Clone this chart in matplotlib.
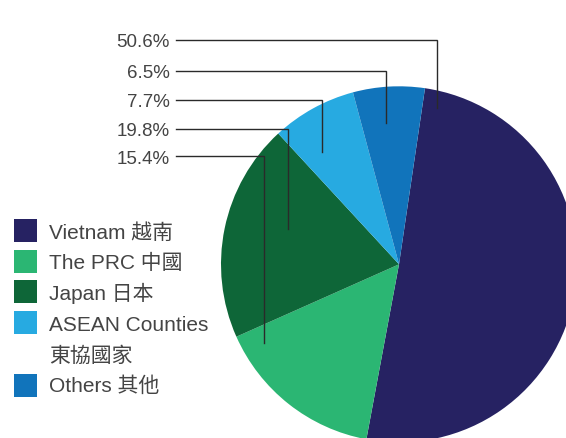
import matplotlib
matplotlib.use("Agg")
import matplotlib.pyplot as plt
from matplotlib.patches import Rectangle

plt.rcParams['font.family'] = ['Liberation Sans', 'Noto Sans CJK TC', 'DejaVu Sans']

# ---- data ----
categories = ['Vietnam 越南', 'The PRC 中國', 'Japan 日本', 'ASEAN Counties\n東協國家', 'Others 其他']
shares = [50.6, 15.4, 19.8, 7.7, 6.5]
colors = ['#262262', '#2BB673', '#0E6638', '#27AAE1', '#1174BB']
# order of the percentage labels from top to bottom (index into the lists above)
label_order = [0, 4, 3, 2, 1]

# ---- layout (pixel units) ----
W, H = 566, 438
fig = plt.figure(figsize=(W / 100, H / 100), dpi=100)
ax = fig.add_axes([0, 0, 1, 1])

def Y(y):
    return H - y

ax.pie(shares, colors=colors, startangle=81.6, counterclock=False,
       center=(399, Y(264.3)), radius=178,
       wedgeprops=dict(linewidth=0, antialiased=True))

ax.set_xlim(0, W)
ax.set_ylim(0, H)
ax.set_aspect('equal')
ax.axis('off')

txt_color = '#444444'

# percentage labels with elbow leader lines
line_ys = [40, 71, 100, 129, 156.3]
corner_xs = [437, 386, 322, 288, 264]
end_ys = [108, 123, 152, 229, 343]
for k, idx in enumerate(label_order):
    ly = line_ys[k]
    ax.text(169.5, Y(ly + 7.3), f"{shares[idx]:.1f}%", ha='right', va='baseline',
            fontsize=13.5, color=txt_color)
    ax.plot([176, corner_xs[k], corner_xs[k]], [Y(ly), Y(ly), Y(end_ys[k])],
            color='#2a2a2a', lw=1.0, solid_joinstyle='miter', zorder=5)

# legend
square_tops = [219, 250, 280, 311, 374]
baselines = [238.5, 269.3, 300, 330.7, 391.7]
for i, cat in enumerate(categories):
    ax.add_patch(Rectangle((14, Y(square_tops[i] + 22.7)), 22.7, 22.7,
                           facecolor=colors[i], edgecolor='none'))
    lines = cat.split('\n')
    for j, ln in enumerate(lines):
        ax.text(48.7, Y(baselines[i] + 31 * j), ln, ha='left', va='baseline',
                fontsize=15, color=txt_color, fontweight='light')

fig.savefig('out.png', dpi=100)
